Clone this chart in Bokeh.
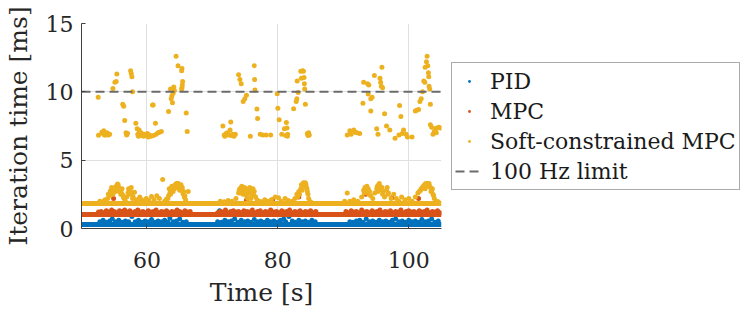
from bokeh.plotting import figure
from bokeh.models import Range1d, Legend, LegendItem, FixedTicker
from bokeh.layouts import row
from bokeh.embed import file_html
from bokeh.resources import INLINE

# ---------------- data ----------------
# steady baseline runs (dense samples drawn as a solid run)
pid_base_t = [50, 105]
pid_base_v = [0.30, 0.30]
mpc_base_t = [50, 105]
mpc_base_v = [1.03, 1.03]
soft_base_t = [50, 105]
soft_base_v = [1.83, 1.83]

# PID excursions above baseline
pid_t = [52.8, 53.3, 53.8, 54.3, 54.7, 55.2, 55.7, 56.2, 56.7, 57.2, 57.7, 58.2, 58.7, 59.2,
         59.7, 60.2, 60.7, 61.2, 61.7, 62.2, 62.7, 63.2, 63.5, 64.0, 64.5, 65.0, 65.5, 66.0,
         70.8, 71.1, 71.4, 71.9, 72.4, 72.9, 73.4, 73.9, 74.4, 74.9, 75.4, 75.9, 76.4, 76.9,
         77.4, 77.9, 78.4, 78.9, 79.4, 79.9, 80.4, 80.9, 81.2, 81.7, 82.2, 82.7, 83.2, 83.7,
         84.2, 84.7, 85.2, 85.7,
         91.0, 91.5, 92.0, 92.5, 93.0, 93.5, 94.0, 94.5, 95.0, 95.5, 96.0, 96.5, 97.0, 97.5,
         98.0, 98.5, 99.0, 99.5, 100.0, 100.5, 101.0, 101.5, 102.0, 102.5, 103.0, 103.5, 104.0, 104.5]
pid_v = [0.50, 0.60, 0.45, 0.55, 0.70, 0.50, 0.60, 0.45, 0.55, 0.50, 0.87, 0.50, 0.60, 0.45,
         0.55, 0.50, 0.65, 0.45, 0.55, 0.50, 0.60, 0.45, 0.75, 0.50, 0.55, 0.70, 0.45, 0.50,
         0.50, 1.30, 0.45, 0.60, 0.50, 0.55, 0.70, 0.45, 0.60, 0.50, 0.55, 0.45, 0.65, 0.50,
         0.55, 0.45, 0.60, 0.50, 0.55, 0.45, 0.60, 0.70, 0.50, 0.87, 0.55, 0.45, 0.60, 0.50,
         0.55, 0.45, 0.60, 0.50,
         0.50, 0.45, 0.55, 0.60, 0.45, 0.70, 0.50, 0.55, 0.45, 0.60, 0.50, 0.55, 0.45, 0.60,
         0.70, 0.50, 0.55, 0.45, 0.60, 0.50, 0.55, 0.45, 0.65, 0.50, 0.55, 0.70, 0.45, 0.55]

# MPC excursions above baseline
mpc_t = [52.6, 53.0, 53.4, 53.8, 54.2, 54.6, 54.9, 55.0, 55.4, 55.8, 56.2, 56.6, 57.0, 57.4,
         57.8, 58.2, 58.6, 58.9, 59.0, 59.4, 59.8, 60.2, 60.6, 61.0, 61.4, 61.8, 62.2, 62.6,
         63.0, 63.4, 63.8, 64.2, 64.6, 65.0, 65.4, 65.8, 66.2, 66.6,
         70.8, 71.2, 71.6, 72.0, 72.4, 72.8, 73.2, 73.6, 74.0, 74.4, 74.8, 75.2, 75.3, 75.7,
         76.1, 76.5, 76.9, 77.3, 77.7, 78.1, 78.5, 78.9, 79.2, 79.4, 79.8, 80.2, 80.6, 81.0,
         81.4, 81.8, 82.2, 82.6, 83.0, 83.2, 83.4, 83.8, 84.2, 84.6, 85.0, 85.4, 85.8,
         90.4, 90.8, 91.2, 91.6, 92.0, 92.4, 92.8, 93.2, 93.4, 93.6, 94.0, 94.4, 94.8, 95.2,
         95.6, 96.0, 96.4, 96.8, 97.2, 97.4, 97.6, 98.0, 98.4, 98.8, 99.2, 99.6, 100.0, 100.4,
         100.8, 101.2, 101.5, 101.6, 102.0, 102.4, 102.8, 103.2, 103.6, 104.0, 104.4, 104.8]
mpc_v = [1.20, 1.25, 1.15, 1.30, 1.20, 1.35, 2.20, 1.25, 1.15, 1.30, 1.25, 1.35, 1.20, 1.30,
         1.15, 1.25, 1.35, 2.20, 1.20, 1.25, 1.15, 1.30, 1.20, 1.25, 1.35, 1.15, 1.25, 1.20,
         1.30, 1.15, 1.25, 1.20, 1.35, 1.25, 1.15, 1.30, 1.20, 1.25,
         1.15, 1.25, 1.20, 1.35, 1.15, 1.25, 1.30, 1.20, 1.25, 1.15, 1.30, 2.07, 1.25, 1.20,
         1.35, 1.15, 1.25, 1.30, 1.15, 1.25, 1.20, 1.35, 2.10, 1.20, 1.25, 1.15, 1.30, 1.20,
         1.25, 1.35, 1.15, 1.25, 1.20, 2.30, 1.30, 1.15, 1.25, 1.20, 1.30, 1.15, 1.25,
         1.25, 1.15, 1.30, 1.20, 1.25, 1.15, 1.35, 1.20, 2.50, 1.25, 1.15, 1.30, 1.20, 1.25,
         1.35, 1.15, 1.25, 1.20, 1.30, 2.25, 1.15, 1.25, 1.20, 1.35, 1.15, 1.25, 1.30, 1.20,
         1.25, 1.15, 2.20, 1.30, 1.20, 1.25, 1.35, 1.15, 1.25, 1.20, 1.30, 1.15]

# Soft-constrained MPC: low humps
soft_lo_t = [52.8, 53.2, 53.6, 54.0, 54.3, 54.5, 54.7, 54.9, 55.1, 55.3, 55.5, 55.7, 55.9, 56.1,
             56.3, 56.5, 56.7, 56.9, 57.1, 57.3, 57.5, 57.7, 57.9, 58.1, 58.3, 58.6, 58.9, 59.2,
             59.5, 59.9, 60.3, 60.7, 61.1, 61.5, 61.9, 62.4, 62.7, 63.0, 63.3, 63.5, 63.7, 63.9,
             64.1, 64.3, 64.5, 64.7, 64.9, 65.1, 65.3, 65.5, 65.7, 65.9, 66.3,
             71.2, 71.8, 72.4, 73.0, 73.6, 74.0, 74.2, 74.4, 74.6, 74.8, 75.0, 75.2, 75.4, 75.6,
             75.8, 76.0, 76.2, 76.4, 76.6, 76.8, 77.1, 77.5, 78.0, 78.5, 79.0, 79.6, 80.1, 80.5,
             81.1, 81.6, 82.2, 82.6, 82.9, 83.2, 83.5, 83.8, 84.0, 84.2, 84.35, 84.5, 84.7, 85.0,
             90.2, 90.6, 91.0, 91.6, 92.2, 92.8, 93.1, 93.3, 93.5, 93.7, 93.9, 94.2, 94.5, 94.8,
             95.1, 95.4, 95.6, 95.8, 96.0, 96.3, 96.6, 96.9, 97.3, 97.7, 98.1, 98.5, 98.9, 99.4,
             100.0, 100.5, 101.0, 101.4, 101.8, 102.1, 102.4, 102.7, 103.0, 103.2, 103.5, 103.7,
             103.9, 104.2, 104.5]
soft_lo_v = [2.00, 1.95, 2.10, 2.20, 2.40, 2.70, 2.90, 2.75, 3.00, 3.10, 3.25, 3.00, 2.85, 2.60,
             2.45, 2.20, 2.00, 2.30, 2.60, 2.80, 2.70, 2.50, 2.30, 2.65, 2.10, 2.00, 2.30, 2.10,
             1.95, 2.20, 2.05, 2.35, 2.10, 2.40, 2.20, 3.58, 2.00, 2.15, 2.40, 2.60, 2.75, 2.90,
             3.05, 3.20, 3.30, 3.25, 3.10, 3.00, 2.80, 2.55, 2.30, 2.10, 2.70,
             2.00, 1.95, 2.05, 2.00, 2.20, 2.60, 2.90, 3.00, 2.80, 2.95, 2.70, 2.40, 2.20, 2.80,
             2.60, 2.40, 2.90, 2.70, 2.30, 2.10, 2.00, 1.95, 2.10, 2.00, 2.10, 2.30, 2.25, 2.00,
             2.20, 2.05, 2.00, 2.20, 2.50, 2.70, 2.90, 3.10, 3.30, 3.35, 3.00, 2.70, 2.20, 1.95,
             2.00, 2.60, 2.00, 2.10, 2.00, 2.30, 2.80, 3.00, 2.90, 2.70, 2.50, 2.40, 2.20, 2.60,
             2.90, 3.20, 3.10, 2.80, 2.50, 2.30, 2.80, 2.60, 2.20, 2.50, 2.20, 2.00, 2.30, 2.10,
             2.20, 2.00, 2.30, 2.60, 2.80, 3.00, 3.20, 3.30, 3.20, 3.10, 2.80, 2.50,
             2.20, 2.00, 1.95]

# Soft-constrained MPC: further points inside the low humps
soft_lo2_t = [54.1, 54.4, 54.6, 54.8, 55.0, 55.2, 55.4, 55.6, 55.8, 56.0, 56.2, 56.4, 57.2, 57.4,
              57.6, 57.8,
              63.2, 63.4, 63.6, 63.8, 64.0, 64.2, 64.4, 64.6, 64.8, 65.0, 65.2, 65.4, 65.6, 65.8,
              74.1, 74.3, 74.5, 74.7, 74.9, 75.1, 75.5, 75.7, 75.9, 76.1, 76.3,
              83.0, 83.3, 83.6, 83.7, 83.9, 84.1, 84.3, 84.45, 84.6,
              93.2, 93.4, 93.6, 93.8, 94.0, 95.2, 95.3, 95.5, 95.7, 95.9, 96.1, 96.7, 96.8,
              101.6, 101.9, 102.2, 102.5, 102.6, 102.8, 102.9, 103.1, 103.3, 103.4, 103.6, 103.8]
soft_lo2_v = [2.50, 2.75, 3.00, 2.50, 2.80, 2.70, 3.00, 3.20, 2.70, 2.50, 2.90, 2.30, 2.90, 2.50,
              3.00, 2.20,
              2.20, 2.90, 2.50, 3.10, 2.70, 2.90, 3.10, 3.00, 3.30, 2.80, 3.20, 3.00, 2.70, 2.40,
              2.80, 2.60, 3.10, 2.50, 3.00, 2.90, 2.60, 3.00, 2.20, 2.70, 2.50,
              2.30, 2.50, 3.20, 2.80, 3.35, 3.10, 3.20, 2.90, 2.50,
              2.60, 2.80, 3.10, 2.90, 2.70, 3.10, 2.70, 3.30, 2.90, 3.00, 2.70, 3.00, 2.50,
              2.70, 2.90, 3.10, 2.90, 3.30, 3.10, 3.25, 3.30, 3.00, 2.70, 2.90, 2.40]

# Soft-constrained MPC: high scatter
soft_hi_t = [52.55, 52.6, 53.1, 53.3, 53.5, 53.4, 53.7, 53.9, 54.1, 54.3, 54.8, 55.1, 55.3, 55.4,
             56.3, 56.45, 56.6, 56.8, 56.9, 57.05, 57.5, 57.6, 57.7, 57.8, 58.3, 58.5, 58.6, 58.8,
             58.7, 58.95, 59.1, 59.3, 59.5, 59.6, 59.85, 60.05, 60.2, 60.4, 60.6, 60.85, 60.95,
             61.0, 61.3, 61.4, 61.7, 61.9, 62.2, 63.3, 63.6, 63.7, 63.8, 63.9, 64.0, 64.1, 64.2,
             64.45, 64.75, 65.3, 65.35, 65.4, 65.45, 65.35, 65.3, 66.0, 66.15,
             71.6, 71.8, 71.9, 72.1, 72.3, 72.5, 72.7, 72.8, 72.9, 73.1, 73.3, 73.5, 74.0, 74.2,
             74.4, 74.7, 74.95, 75.2, 75.8, 76.4, 76.45, 76.5, 76.8, 76.9, 77.3, 77.7, 78.2, 78.9,
             79.9, 80.0, 80.2, 80.6, 81.0, 81.3, 81.4, 81.2, 81.5, 81.45, 82.4, 82.8, 82.9, 82.95,
             83.1, 83.5, 83.6, 83.8, 83.9, 84.0, 84.05, 84.1, 84.2, 84.5, 84.6, 84.7, 84.8,
             90.6, 91.0, 91.2, 91.6, 91.8, 92.1, 92.5, 93.0, 93.1, 93.7, 93.9, 93.8, 94.2, 94.4,
             94.2, 94.75, 95.1, 95.3, 95.6, 95.7, 95.8, 95.9, 96.0, 96.3, 96.6, 97.1, 97.9, 98.5,
             98.6, 98.8, 99.0, 99.2, 99.6, 99.8, 100.5, 101.0, 101.2, 101.5, 101.7, 101.9, 102.1,
             102.3, 102.45, 102.5, 102.7, 102.8, 102.9, 103.0, 103.05, 103.1, 103.2, 103.3, 103.3,
             103.5, 103.7, 103.9, 104.1, 104.3, 104.6, 104.8, 104.2]
soft_hi_v = [9.60, 6.83, 7.05, 6.95, 6.85, 7.15, 6.85, 7.00, 6.85, 6.90, 10.24, 10.70, 10.75, 11.30,
             9.10, 8.95, 7.90, 7.00, 6.85, 6.95, 11.55, 11.35, 11.10, 10.00, 7.70, 7.30, 6.90, 7.20,
             6.75, 6.80, 7.00, 6.85, 6.75, 6.90, 6.80, 6.95, 6.70, 6.85, 6.75, 9.04, 9.04,
             6.80, 7.70, 6.90, 7.00, 7.05, 7.10, 8.56, 10.20, 9.50, 9.70, 9.20, 9.90, 10.35, 10.10,
             12.60, 11.90, 11.55, 11.70, 10.50, 10.75, 10.30, 10.20, 8.46, 7.10,
             7.50, 6.85, 6.75, 6.95, 7.00, 6.85, 7.20, 7.80, 6.80, 6.90, 6.75, 6.90, 11.25, 10.90,
             10.60, 9.30, 9.50, 9.75, 6.75, 11.90, 10.90, 10.14, 8.75, 8.05, 6.90, 6.85, 6.85, 6.85,
             9.86, 8.80, 7.95, 6.90, 7.30, 7.75, 7.35, 6.80, 6.90, 6.75, 8.77, 9.30, 9.50, 10.80,
             9.95, 11.50, 11.00, 11.55, 11.50, 11.05, 10.60, 10.20, 9.10, 6.95, 6.80, 7.00, 6.85,
             6.85, 7.15, 6.90, 7.20, 7.05, 7.00, 6.95, 9.16, 10.70, 10.60, 10.50, 9.85, 9.50, 9.60,
             8.60, 11.20, 7.30, 6.90, 11.00, 10.70, 10.40, 11.80, 10.30, 8.40, 7.50, 7.20, 6.60, 6.85,
             9.00, 8.20, 6.95, 7.20, 6.90, 6.70, 6.70, 8.60, 8.65, 8.70, 9.30, 9.50, 10.00,
             10.80, 10.70, 11.80, 12.20, 12.60, 11.90, 11.40, 11.10, 10.40, 10.20, 9.10, 7.60,
             7.40, 6.90, 7.10, 7.30, 7.35, 7.40, 7.35, 7.00]

# 100 Hz limit
limit_t = [50, 105]
limit_v = [10, 10]

x_ticks = [60, 80, 100]
y_ticks = [0, 5, 10, 15]
series_labels = ["PID", "MPC", "Soft-constrained MPC", "100 Hz limit"]

# ---------------- styling ----------------
C_PID = "#0072BD"
C_MPC = "#D95319"
C_SOFT = "#EDB120"
C_LIM = "#6b6b6b"
FONT = "DejaVu Serif"
TXT = "#262626"
LW = 5       # thickness of the dense baseline runs
DOT = 20     # 'dot' marker size (visible dot = size/4)
H = 309

p = figure(width=446, height=H, output_backend="svg", toolbar_location=None,
           x_range=Range1d(50, 105), y_range=Range1d(0, 15),
           min_border_left=77, min_border_right=5, min_border_top=23, min_border_bottom=79)
p.outline_line_color = None
p.background_fill_color = "white"
p.border_fill_color = "white"

p.line(pid_base_t, pid_base_v, line_width=LW, color=C_PID, line_cap="butt")
p.scatter(pid_t, pid_v, marker="dot", size=DOT, color=C_PID)
p.line(mpc_base_t, mpc_base_v, line_width=LW, color=C_MPC, line_cap="butt")
p.scatter(mpc_t, mpc_v, marker="dot", size=DOT, color=C_MPC)
p.line(soft_base_t, soft_base_v, line_width=LW, color=C_SOFT, line_cap="butt")
p.scatter(soft_lo_t, soft_lo_v, marker="dot", size=DOT, color=C_SOFT)
p.scatter(soft_lo2_t, soft_lo2_v, marker="dot", size=DOT, color=C_SOFT)
p.scatter(soft_hi_t, soft_hi_v, marker="dot", size=DOT, color=C_SOFT)
p.line(limit_t, limit_v, line_width=2, color=C_LIM, line_dash="9 5")

# axes
for ax in (p.xaxis[0], p.yaxis[0]):
    ax.axis_line_color = "#404040"
    ax.major_tick_line_color = "#404040"
    ax.major_tick_in = 4
    ax.major_tick_out = 0
    ax.minor_tick_line_color = None
    ax.major_label_text_font = FONT
    ax.major_label_text_font_size = "22px"
    ax.major_label_text_color = TXT
    ax.axis_label_text_font = FONT
    ax.axis_label_text_font_size = "25px"
    ax.axis_label_text_font_style = "normal"
    ax.axis_label_text_color = TXT

p.xaxis.ticker = FixedTicker(ticks=x_ticks)
p.yaxis.ticker = FixedTicker(ticks=y_ticks)
p.xaxis.axis_label = "Time [s]"
p.yaxis.axis_label = "Iteration time [ms]"
p.xaxis.major_label_standoff = 23
p.xaxis.axis_label_standoff = 7
p.yaxis.major_label_standoff = 8
p.yaxis.axis_label_standoff = 10

p.xgrid.ticker = FixedTicker(ticks=x_ticks)
p.ygrid.ticker = FixedTicker(ticks=y_ticks)
p.grid.grid_line_color = "#e0e0e0"
p.grid.grid_line_width = 1

# ---- legend panel (separate figure, holding legend-only proxy glyphs) ----
lg = figure(width=296, height=H, output_backend="svg", toolbar_location=None,
            x_range=Range1d(0, 1), y_range=Range1d(0, 1),
            min_border_left=0, min_border_right=0, min_border_top=0, min_border_bottom=0)
lg.axis.visible = False
lg.grid.visible = False
lg.outline_line_color = None
lg.border_fill_color = "white"
lg.background_fill_color = "white"

# proxy glyphs placed outside the visible range (only their legend swatches show)
proxy_x = [-5]
proxy_y = [-5]
k_pid = lg.scatter(proxy_x, proxy_y, marker="dot", size=DOT, color=C_PID)
k_mpc = lg.scatter(proxy_x, proxy_y, marker="dot", size=DOT, color=C_MPC)
k_soft = lg.scatter(proxy_x, proxy_y, marker="dot", size=DOT, color=C_SOFT)
k_lim = lg.line([-5, -4], [-5, -5], line_width=2, color=C_LIM, line_dash="9 5")

legend = Legend(items=[
    LegendItem(label=series_labels[0], renderers=[k_pid]),
    LegendItem(label=series_labels[1], renderers=[k_mpc]),
    LegendItem(label=series_labels[2], renderers=[k_soft]),
    LegendItem(label=series_labels[3], renderers=[k_lim]),
], location=(5, 38))
legend.label_text_font = FONT
legend.label_text_font_size = "22px"
legend.label_text_color = "#1a1a1a"
legend.border_line_color = "#555555"
legend.border_line_width = 1
legend.background_fill_color = "white"
legend.background_fill_alpha = 1
legend.padding = 3
legend.spacing = 0
legend.margin = 0
legend.label_height = 30
legend.glyph_height = 30
legend.glyph_width = 28
legend.label_standoff = 7
lg.add_layout(legend, "center")

layout = row(p, lg)
open("out.html", "w").write(file_html(layout, INLINE))
